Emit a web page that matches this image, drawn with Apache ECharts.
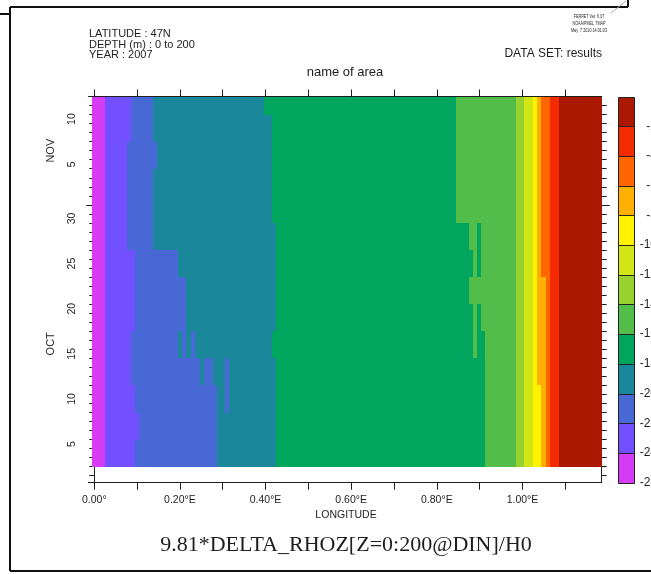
<!DOCTYPE html>
<html><head><meta charset="utf-8">
<script src="https://cdn.jsdelivr.net/npm/echarts@6/dist/echarts.min.js"></script>
<style>html,body{margin:0;padding:0;background:#fff}#c{width:651px;height:574px}</style>
</head><body><div id="c"></div>
<script>
// ---------- DATA ----------
// colour levels (lower edges of each shaded band) and their colours
const levels = [-26, -24, -22, -20, -18, -16, -14, -12, -10, -8, -6, -4, -2, 0];
const levelColors = ['#d63cf6', '#7350ff', '#4768d5', '#1b879b', '#00a65d', '#52bd49', '#98d22e',
                     '#d3e615', '#fff300', '#ffb000', '#ff6600', '#f42a00', '#aa1800'];

// one row per day, bottom (Oct 3) to top (Nov 12)
const rowDates = ['2007-10-03','2007-10-04','2007-10-05','2007-10-06','2007-10-07','2007-10-08','2007-10-09',
  '2007-10-10','2007-10-11','2007-10-12','2007-10-13','2007-10-14','2007-10-15','2007-10-16','2007-10-17',
  '2007-10-18','2007-10-19','2007-10-20','2007-10-21','2007-10-22','2007-10-23','2007-10-24','2007-10-25',
  '2007-10-26','2007-10-27','2007-10-28','2007-10-29','2007-10-30','2007-10-31','2007-11-01','2007-11-02',
  '2007-11-03','2007-11-04','2007-11-05','2007-11-06','2007-11-07','2007-11-08','2007-11-09','2007-11-10',
  '2007-11-11','2007-11-12'];

// longitude of each band edge per row, run-length coded as [rowCount, longitude], bottom row first
const edgeWest        = [[41, -0.0047]];
const edgeMagPurple   = [[41, 0.0257]];
const edgePurpleBlue  = [[3, 0.0950], [3, 0.1050], [3, 0.0950], [6, 0.0857], [9, 0.0950], [12, 0.0770], [5, 0.0857]];
const edgeBlueTeal    = [[9, 0.2857], [3, 0.2467], [3, 0.1954], [6, 0.2140], [3, 0.1954], [9, 0.1363], [3, 0.1457], [5, 0.1363]];
const edgeTealGreen   = [[12, 0.4248], [3, 0.4155], [12, 0.4248], [12, 0.4155], [2, 0.3954]];
const edgeGreenMid    = [[12, 0.9136], [3, 0.8847], [3, 0.8847], [3, 0.8754], [3, 0.8847], [3, 0.8754], [14, 0.8459]];
const edgeMidYG       = [[41, 0.9860]];
const edgeYGLime      = [[41, 1.0037]];
const edgeLimeYellow  = [[41, 1.0247]];
const edgeYellowOrng  = [[9, 1.0443], [32, 1.0341]];
const edgeOrngDkOrng  = [[21, 1.0544], [20, 1.0443]];
const edgeDkOrngRed   = [[41, 1.0637]];
const edgeRedDkRed    = [[41, 1.0847]];
const edgeEast        = [[41, 1.1851]];

// small patches: [firstRow, lastRow, lonWest, lonEast, levelIndex]
const patches = [
  [6, 11, 0.3058, 0.3151, 2],
  [9, 11, 0.2561, 0.2764, 2],
  [12, 14, 0.2040, 0.2140, 2],
  [12, 14, 0.2257, 0.2351, 2],
  [12, 14, 0.8940, 0.9136, 4],
  [15, 17, 0.8940, 0.9043, 4],
  [21, 26, 0.8940, 0.9043, 4]
];

// axis ticks / labels
const lonTicks = [0, 0.1, 0.2, 0.3, 0.4, 0.5, 0.6, 0.7, 0.8, 0.9, 1.0, 1.1];
const lonLabels = [0, 0.2, 0.4, 0.6, 0.8, 1.0];
const dayLabelDates = ['2007-10-05','2007-10-10','2007-10-15','2007-10-20','2007-10-25','2007-10-30','2007-11-05','2007-11-10'];
const monthNames = ['OCT', 'NOV'];
const monthStarts = ['2007-10-01', '2007-11-01', '2007-12-01'];
const headerLeft = ['LATITUDE : 47N', 'DEPTH (m) : 0 to 200', 'YEAR : 2007'];
const ferretStamp = ['FERRET Ver. 6.07', 'NOAA/PMEL TMAP', 'May  7 2010 14:01:03'];

// ---------- BUILD ----------
const T0 = Date.UTC(2007, 9, 1);
function dayT(s) { const p = s.split('-'); return (Date.UTC(+p[0], +p[1] - 1, +p[2]) - T0) / 86400000; }
function expand(rle) { const out = []; rle.forEach(([n, v]) => { for (let i = 0; i < n; i++) out.push(v); }); return out; }
const edges = [edgeWest, edgeMagPurple, edgePurpleBlue, edgeBlueTeal, edgeTealGreen, edgeGreenMid, edgeMidYG,
  edgeYGLime, edgeLimeYellow, edgeYellowOrng, edgeOrngDkOrng, edgeDkOrngRed, edgeRedDkRed, edgeEast].map(expand);

const heat = [];
rowDates.forEach((d, r) => {
  const t = dayT(d);
  for (let L = 0; L < 13; L++) heat.push([edges[L][r], edges[13][r], t, t + 1, L]);
});
patches.forEach(([r0, r1, w, e, L]) => {
  for (let r = r0; r <= r1; r++) { const t = dayT(rowDates[r]); heat.push([w, e, t, t + 1, L]); }
});
const bar = [];
for (let i = 0; i < 13; i++) bar.push([levels[i], levels[i + 1], i]);

const dayTicks = [];
const yMin = 0.23, yMax = 43;
for (let k = 1; k < 43; k++) dayTicks.push(k);
const monthTick = [dayT(monthStarts[1])];
const dayLabelT = dayLabelDates.map(s => dayT(s) + 0.5);
const dayLabelMap = {};
dayLabelDates.forEach((s, i) => { dayLabelMap[dayLabelT[i].toFixed(2)] = String(+s.split('-')[2]); });

const FONT = 'Liberation Sans, Arial, sans-serif';
const INK = '#1e1e1e';

function rectItem(params, api) {
  const a = api.coord([api.value(0), api.value(3)]);
  const b = api.coord([api.value(1), api.value(2)]);
  const x0 = Math.round(a[0]), x1 = Math.round(b[0]), y0 = Math.round(a[1]), y1 = Math.round(b[1]);
  return { type: 'rect', shape: { x: x0, y: y0, width: x1 - x0, height: y1 - y0 },
    style: { fill: levelColors[api.value(4)] } };
}
function barItem(params, api) {
  const a = api.coord([0, api.value(1)]);
  const b = api.coord([1, api.value(0)]);
  return { type: 'rect', shape: { x: Math.round(a[0]) + 0.5, y: Math.round(a[1]) + 0.5,
      width: Math.round(b[0]) - Math.round(a[0]) - 1, height: Math.round(b[1]) - Math.round(a[1]) },
    style: { fill: levelColors[api.value(2)], stroke: '#222', lineWidth: 1 } };
}

const chart = echarts.init(document.getElementById('c'));
const tickStyle = { color: INK, width: 1 };
const option = {
  animation: false,
  backgroundColor: '#fff',
  grid: [
    { left: 88.5, top: 96.5, width: 513.2, height: 386.2, containLabel: false, outerBoundsMode: 'none' },
    { left: 618, top: 96.5, width: 17, height: 386.2, containLabel: false, outerBoundsMode: 'none' }
  ],
  xAxis: [
    { gridIndex: 0, type: 'value', position: 'bottom', min: -0.0135, max: 1.1851,
      axisLine: { lineStyle: tickStyle }, splitLine: { show: false },
      axisTick: { customValues: lonTicks, length: 7, lineStyle: tickStyle },
      axisLabel: { customValues: lonLabels, margin: 12, fontSize: 10.5, fontFamily: FONT, color: INK,
        formatter: v => v === 0 ? '0.00°' : v.toFixed(2) + '°E' } },
    { gridIndex: 0, type: 'value', position: 'top', min: -0.0135, max: 1.1851,
      axisLine: { lineStyle: tickStyle }, splitLine: { show: false },
      axisTick: { customValues: lonTicks, length: 7, lineStyle: tickStyle },
      axisLabel: { show: false } },
    { gridIndex: 1, type: 'value', min: 0, max: 1, show: false }
  ],
  yAxis: [
    { gridIndex: 0, type: 'value', position: 'left', min: yMin, max: yMax,
      axisLine: { show: true, lineStyle: tickStyle }, splitLine: { show: false },
      axisTick: { customValues: dayTicks, length: 5, lineStyle: tickStyle },
      axisLabel: { customValues: dayLabelT, rotate: 90, align: 'center', verticalAlign: 'bottom', margin: 11,
        fontSize: 10.5, fontFamily: FONT, color: INK, formatter: v => dayLabelMap[v.toFixed(2)] || '' } },
    { gridIndex: 0, type: 'value', position: 'left', min: yMin, max: yMax,
      axisLine: { show: false }, splitLine: { show: false },
      axisTick: { customValues: monthTick, length: 8, lineStyle: tickStyle }, axisLabel: { show: false } },
    { gridIndex: 0, type: 'value', position: 'right', min: yMin, max: yMax,
      axisLine: { show: true, lineStyle: tickStyle }, splitLine: { show: false },
      axisTick: { customValues: dayTicks, length: 5, lineStyle: tickStyle }, axisLabel: { show: false } },
    { gridIndex: 0, type: 'value', position: 'right', min: yMin, max: yMax,
      axisLine: { show: false }, splitLine: { show: false },
      axisTick: { customValues: monthTick, length: 8, lineStyle: tickStyle }, axisLabel: { show: false } },
    { gridIndex: 1, type: 'value', position: 'right', min: -26, max: 0, interval: 2,
      axisLine: { show: false }, axisTick: { show: false }, splitLine: { show: false },
      axisLabel: { align: 'right', margin: 22, fontSize: 12, fontFamily: FONT, color: INK,
        formatter: v => v === 0 ? '' : String(v) } }
  ],
  series: [
    { type: 'custom', xAxisIndex: 0, yAxisIndex: 0, renderItem: rectItem, data: heat,
      encode: { x: [0, 1], y: [2, 3] }, silent: true },
    { type: 'custom', xAxisIndex: 2, yAxisIndex: 4, renderItem: barItem, data: bar,
      encode: { y: [0, 1] }, silent: true }
  ]
};
chart.setOption(option);

// ---------- TEXT & FRAME ----------
const g = [];
headerLeft.forEach((s, i) => g.push({ type: 'text', x: 89, y: 34 + i * 10.5,
  style: { text: s, fontSize: 11, fontFamily: FONT, fill: INK, textVerticalAlign: 'middle' } }));
ferretStamp.forEach((s, i) => g.push({ type: 'text', x: 589, y: 16 + i * 7, scaleX: 0.62, originX: 0,
  style: { text: s, fontSize: 6, fontFamily: FONT, fill: INK, textAlign: 'center', textVerticalAlign: 'middle' } }));
g.push({ type: 'text', x: 602, y: 54, style: { text: 'DATA SET: results', fontSize: 12, fontFamily: FONT,
  fill: INK, textAlign: 'right', textVerticalAlign: 'middle' } });
g.push({ type: 'text', x: 345, y: 72, style: { text: 'name of area', fontSize: 13, fontFamily: FONT,
  fill: INK, textAlign: 'center', textVerticalAlign: 'middle' } });
g.push({ type: 'text', x: 346, y: 515, style: { text: 'LONGITUDE', fontSize: 10.5, fontFamily: FONT,
  fill: INK, textAlign: 'center', textVerticalAlign: 'middle' } });
g.push({ type: 'text', x: 346, y: 545, style: { text: '9.81*DELTA_RHOZ[Z=0:200@DIN]/H0', fontSize: 22,
  fontFamily: 'Liberation Serif, Times New Roman, serif', fill: INK, textAlign: 'center', textVerticalAlign: 'middle' } });
// month labels centred on the visible part of each month
monthNames.forEach((m, i) => {
  const a = Math.max(dayT(monthStarts[i]), yMin), b = Math.min(dayT(monthStarts[i + 1]), yMax);
  const py = chart.convertToPixel({ yAxisIndex: 0 }, (a + b) / 2);
  g.push({ type: 'text', x: 51, y: py, rotation: Math.PI / 2,
    style: { text: m, fontSize: 11, fontFamily: FONT, fill: INK, textAlign: 'center', textVerticalAlign: 'middle' } });
});
// window frame lines
const frame = [[0, 14, 10, 14], [10, 7, 628, 7], [10, 7, 10, 571], [10, 571, 651, 571], [628, 0, 628, 7]];
frame.forEach(([x1, y1, x2, y2]) => g.push({ type: 'line', shape: { x1, y1, x2, y2 },
  style: { stroke: '#111', lineWidth: 2 } }));
g.push({ type: 'line', shape: { x1: 611, y1: 13, x2: 626, y2: 1 }, style: { stroke: '#aaa', lineWidth: 1 } });
chart.setOption({ graphic: g });
</script>
</body></html>
